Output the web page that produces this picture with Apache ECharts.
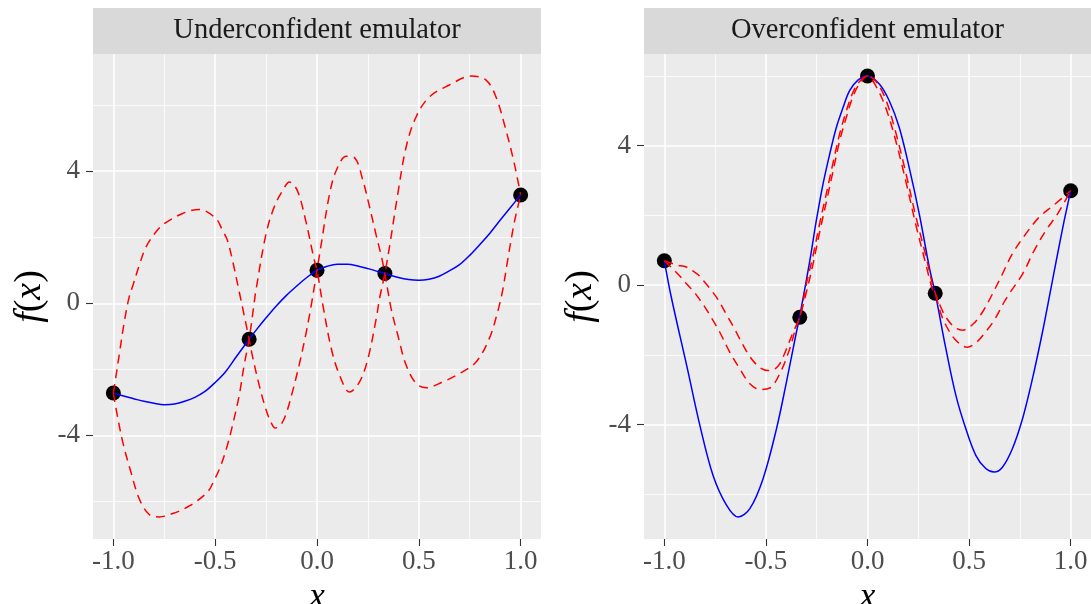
<!DOCTYPE html>
<html>
<head>
<meta charset="utf-8">
<script src="https://cdn.jsdelivr.net/npm/echarts@6/dist/echarts.min.js"></script>
<style>html,body{margin:0;padding:0;background:#ffffff}#chart{width:1091px;height:604px}</style>
</head>
<body>
<div id="chart"></div>
<script>
// ---------- tick definitions ----------
const xMajorTicks = [-1, -0.5, 0, 0.5, 1];
const xTickLabels = ["-1.0", "-0.5", "0.0", "0.5", "1.0"];
const xMinorTicks = [-0.75, -0.25, 0.25, 0.75];
const yMajorTicks = [-4, 0, 4];
const yTickLabels = ["-4", "0", "4"];
const yMinorTicks = [-6, -2, 2, 6];

const panelTitles = ["Underconfident emulator", "Overconfident emulator"];

// ---------- training points ----------
const pointsX = [-1, -0.3333, 0, 0.3333, 1];
const leftPointsY = [-2.72, -1.09, 1.00, 0.90, 3.28];
const rightPointsY = [0.70, -0.92, 6.00, -0.23, 2.71];

// ---------- left panel: true function ----------
const leftTrueX = [-1,-0.95,-0.9,-0.85,-0.8,-0.75,-0.7,-0.65,-0.6,-0.55,-0.5,-0.45,-0.4,-0.3333,-0.3,-0.25,-0.2,-0.15,-0.1,-0.05,0,0.05,0.1,0.15,0.2,0.25,0.3333,0.4,0.45,0.5,0.55,0.6,0.65,0.7,0.75,0.8,0.85,0.9,0.95,1];
const leftTrueY = [-2.72,-2.81,-2.89,-2.97,-3.03,-3.07,-3.05,-2.97,-2.85,-2.67,-2.40,-2.08,-1.65,-1.09,-0.82,-0.44,-0.08,0.24,0.52,0.78,1.00,1.12,1.18,1.18,1.13,1.05,0.90,0.78,0.72,0.70,0.73,0.82,0.98,1.17,1.45,1.78,2.13,2.52,2.90,3.28];

// ---------- left panel: emulator bounds (two dashed curves) ----------
const leftBoundAX = [-1,-0.99,-0.971,-0.946,-0.922,-0.905,-0.873,-0.84,-0.791,-0.75,-0.66,-0.578,-0.497,-0.464,-0.44,-0.415,-0.382,-0.358,-0.3333,-0.317,-0.284,-0.252,-0.227,-0.205,-0.18,-0.154,-0.121,-0.088,-0.056,-0.031,0,0.021,0.062,0.095,0.144,0.184,0.225,0.258,0.291,0.315,0.3333,0.364,0.397,0.438,0.487,0.536,0.618,0.699,0.781,0.846,0.887,0.912,0.936,0.969,1];
const leftBoundAY = [-2.72,-2.32,-1.55,-0.55,0.20,0.52,1.15,1.70,2.16,2.41,2.72,2.84,2.57,2.21,1.91,1.30,0.35,-0.35,-1.09,-1.60,-2.48,-3.19,-3.59,-3.78,-3.70,-3.39,-2.69,-1.88,-0.97,-0.16,1.00,1.80,3.32,4.03,4.45,4.41,3.73,2.92,2.05,1.45,0.90,-0.16,-0.97,-1.88,-2.43,-2.56,-2.38,-2.13,-1.78,-1.07,-0.26,0.40,1.30,2.45,3.28];
const leftBoundBX = [-1,-0.987,-0.954,-0.914,-0.873,-0.824,-0.775,-0.709,-0.627,-0.538,-0.505,-0.472,-0.44,-0.415,-0.382,-0.358,-0.3333,-0.309,-0.30,-0.25,-0.21,-0.17,-0.135,-0.097,-0.056,-0.015,0,0.029,0.07,0.111,0.16,0.209,0.25,0.291,0.307,0.3333,0.356,0.397,0.438,0.487,0.552,0.65,0.756,0.83,0.879,0.928,0.969,1];
const leftBoundBY = [-2.72,-3.19,-4.20,-5.11,-5.92,-6.40,-6.47,-6.37,-6.14,-5.72,-5.36,-4.91,-4.30,-3.70,-2.79,-1.88,-1.09,-0.01,0.39,2.11,2.92,3.40,3.67,3.42,2.52,1.35,1.00,-0.06,-1.37,-2.18,-2.69,-2.38,-1.68,-0.46,0.14,0.90,1.71,3.32,4.74,5.65,6.25,6.61,6.88,6.76,6.25,5.24,4.23,3.28];

// ---------- right panel: true function ----------
const rightTrueX = [-1,-0.964,-0.89,-0.825,-0.76,-0.694,-0.637,-0.579,-0.514,-0.448,-0.399,-0.35,-0.3333,-0.284,-0.252,-0.219,-0.186,-0.153,-0.12,-0.088,-0.047,0,0.058,0.107,0.156,0.205,0.255,0.304,0.3333,0.386,0.435,0.484,0.533,0.582,0.623,0.664,0.713,0.763,0.812,0.861,0.902,0.935,0.967,1];
const rightTrueY = [0.70,-0.39,-2.30,-4.02,-5.46,-6.31,-6.65,-6.41,-5.55,-4.12,-2.78,-1.35,-0.88,0.70,1.85,2.90,3.76,4.53,5.10,5.58,5.88,6.00,5.77,5.29,4.53,3.38,2.04,0.52,-0.23,-1.83,-3.16,-4.12,-4.88,-5.26,-5.36,-5.22,-4.69,-3.83,-2.68,-1.35,-0.12,0.88,1.82,2.71];

// ---------- right panel: emulator bounds ----------
const rightBoundAX = [-1,-0.94,-0.892,-0.858,-0.833,-0.806,-0.775,-0.737,-0.70,-0.65,-0.628,-0.579,-0.53,-0.489,-0.455,-0.432,-0.399,-0.366,-0.3333,-0.30,-0.269,-0.235,-0.202,-0.17,-0.137,-0.104,-0.071,-0.038,0,0.042,0.091,0.14,0.189,0.238,0.288,0.32,0.3333,0.36,0.386,0.427,0.468,0.517,0.566,0.615,0.664,0.713,0.779,0.845,0.918,1];
const rightBoundAY = [0.70,0.58,0.52,0.40,0.30,0.12,-0.10,-0.40,-0.78,-1.30,-1.55,-2.05,-2.36,-2.45,-2.40,-2.26,-1.83,-1.35,-0.92,0.06,0.82,1.78,2.64,3.50,4.34,5.00,5.54,5.85,6.00,5.84,5.31,4.36,3.21,1.97,0.82,0.02,-0.23,-0.62,-0.92,-1.20,-1.29,-1.13,-0.77,-0.25,0.32,0.90,1.47,1.95,2.30,2.71];
const rightBoundBX = [-1,-0.95,-0.917,-0.892,-0.85,-0.825,-0.80,-0.77,-0.727,-0.678,-0.628,-0.579,-0.53,-0.481,-0.432,-0.383,-0.35,-0.3333,-0.30,-0.269,-0.235,-0.202,-0.17,-0.137,-0.104,-0.071,-0.038,0,0.042,0.091,0.14,0.189,0.238,0.288,0.32,0.3333,0.36,0.386,0.43,0.49,0.54,0.58,0.623,0.672,0.697,0.763,0.82,0.877,0.935,1];
const rightBoundBY = [0.70,0.42,0.22,0.05,-0.22,-0.42,-0.63,-0.92,-1.35,-1.92,-2.40,-2.83,-2.99,-2.95,-2.54,-1.83,-1.16,-0.92,-0.18,0.58,1.54,2.40,3.26,4.14,4.82,5.42,5.79,6.00,5.70,5.07,4.12,2.97,1.73,0.58,-0.12,-0.23,-0.80,-1.15,-1.55,-1.78,-1.62,-1.35,-1.01,-0.49,-0.25,0.32,0.99,1.56,2.04,2.71];

// ---------- helpers ----------
const FONT = '"Liberation Serif", "Times New Roman", serif';
function pairs(xs, ys) { return xs.map((x, i) => [x, ys[i]]); }
function labelFor(v, ticks, labels) {
  for (let i = 0; i < ticks.length; i++) if (Math.abs(ticks[i] - v) < 1e-9) return labels[i];
  return '';
}

const grids = [
  { left: 93, top: 54, width: 448, height: 485 },
  { left: 644, top: 54, width: 447, height: 485 }
];
const yRanges = [[-7.14, 7.55], [-7.28, 6.63]];

function xAxisDef(gi) {
  return {
    type: 'value', gridIndex: gi, min: -1.1, max: 1.1,
    axisLine: { show: false, onZero: false },
    axisTick: { show: true, length: 7, customValues: xMajorTicks, lineStyle: { color: '#333333', width: 1.1 } },
    axisLabel: { customValues: xMajorTicks, formatter: v => labelFor(v, xMajorTicks, xTickLabels),
      color: '#4D4D4D', fontFamily: FONT, fontSize: 27, margin: 9 },
    splitLine: { show: false },
    name: 'x', nameLocation: 'middle', nameGap: 33,
    nameTextStyle: { fontFamily: FONT, fontStyle: 'italic', fontSize: 35, color: '#000000' }
  };
}
function yAxisDef(gi) {
  return {
    type: 'value', gridIndex: gi, min: yRanges[gi][0], max: yRanges[gi][1],
    axisLine: { show: false, onZero: false },
    axisTick: { show: true, length: 7, customValues: yMajorTicks, lineStyle: { color: '#333333', width: 1.1 } },
    axisLabel: { customValues: yMajorTicks, formatter: v => labelFor(v, yMajorTicks, yTickLabels),
      color: '#4D4D4D', fontFamily: FONT, fontSize: 27, margin: 13 },
    splitLine: { show: false },
    name: '{i|f}{p|(}{i|x}{p|)}', nameLocation: 'middle', nameGap: 44,
    nameTextStyle: { color: '#000000', rich: {
      i: { fontFamily: FONT, fontStyle: 'italic', fontSize: 38, color: '#000000' },
      p: { fontFamily: FONT, fontSize: 38, color: '#000000' } } }
  };
}
function gridLines(gi) {
  return {
    type: 'line', xAxisIndex: gi, yAxisIndex: gi, data: [], z: 1, silent: true,
    markLine: {
      z: 1, silent: true, symbol: 'none', animation: false, label: { show: false },
      lineStyle: { color: '#FFFFFF', type: 'solid', width: 1.6 },
      emphasis: { disabled: true },
      data: [].concat(
        xMinorTicks.map(v => ({ xAxis: v, lineStyle: { width: 0.8, color: '#FFFFFF', type: 'solid' } })),
        yMinorTicks.map(v => ({ yAxis: v, lineStyle: { width: 0.8, color: '#FFFFFF', type: 'solid' } })),
        xMajorTicks.map(v => ({ xAxis: v })),
        yMajorTicks.map(v => ({ yAxis: v }))
      )
    }
  };
}
function curve(gi, xs, ys, color, dashed, z) {
  return {
    type: 'line', xAxisIndex: gi, yAxisIndex: gi, data: pairs(xs, ys),
    showSymbol: false, symbol: 'none', smooth: 0.35, z: z, silent: true,
    lineStyle: { color: color, width: 1.5, type: dashed ? [9, 6] : 'solid' }
  };
}
function pointsSeries(gi, ys) {
  return {
    type: 'scatter', xAxisIndex: gi, yAxisIndex: gi, data: pairs(pointsX, ys),
    symbol: 'circle', symbolSize: 15, itemStyle: { color: '#000000', opacity: 1 }, z: 2, silent: true
  };
}

const chart = echarts.init(document.getElementById('chart'), null, { renderer: 'canvas' });
chart.setOption({
  animation: false,
  backgroundColor: '#FFFFFF',
  grid: grids.map(g => Object.assign({ show: true, z: 0, backgroundColor: '#EBEBEB', borderWidth: 0, containLabel: false, outerBoundsMode: 'none' }, g)),
  xAxis: [xAxisDef(0), xAxisDef(1)],
  yAxis: [yAxisDef(0), yAxisDef(1)],
  graphic: [
    { type: 'rect', shape: { x: 93, y: 8, width: 448, height: 46 }, style: { fill: '#D9D9D9' }, silent: true },
    { type: 'rect', shape: { x: 644, y: 8, width: 447, height: 46 }, style: { fill: '#D9D9D9' }, silent: true },
    { type: 'text', x: 317, y: 31, silent: true, style: { text: panelTitles[0], font: '28.5px "Liberation Serif"', fill: '#1A1A1A', align: 'center', verticalAlign: 'middle', textAlign: 'center', textVerticalAlign: 'middle' } },
    { type: 'text', x: 867.5, y: 31, silent: true, style: { text: panelTitles[1], font: '28.5px "Liberation Serif"', fill: '#1A1A1A', align: 'center', verticalAlign: 'middle', textAlign: 'center', textVerticalAlign: 'middle' } }
  ],
  series: [
    gridLines(0),
    pointsSeries(0, leftPointsY),
    curve(0, leftTrueX, leftTrueY, '#0000FF', false, 3),
    curve(0, leftBoundAX, leftBoundAY, '#FF0000', true, 4),
    curve(0, leftBoundBX, leftBoundBY, '#FF0000', true, 4),
    gridLines(1),
    pointsSeries(1, rightPointsY),
    curve(1, rightTrueX, rightTrueY, '#0000FF', false, 3),
    curve(1, rightBoundAX, rightBoundAY, '#FF0000', true, 4),
    curve(1, rightBoundBX, rightBoundBY, '#FF0000', true, 4)
  ]
});
</script>
</body>
</html>
